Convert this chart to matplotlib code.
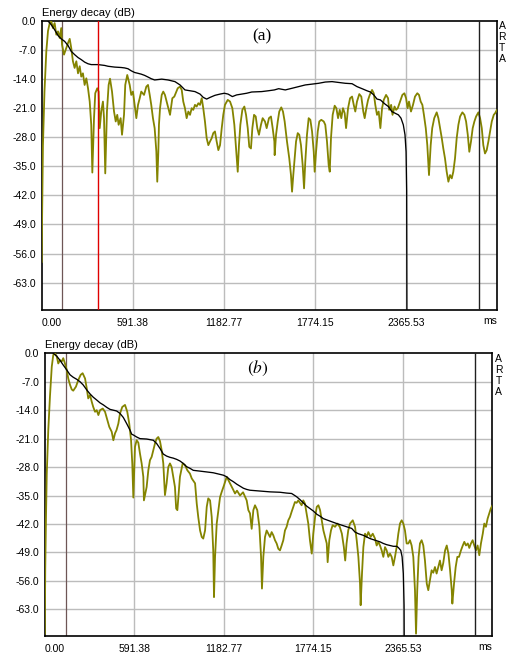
import matplotlib
matplotlib.use("Agg")
import matplotlib.pyplot as plt

# ---------------- panel (a) ----------------
a_trace_ms = [0, 3, 8, 18, 30, 41, 52, 62, 73, 84, 95, 106, 117, 127, 132, 145, 160, 171, 182, 192,
              203, 214, 225, 236, 247, 257, 268, 279, 290, 301, 312, 322, 329, 340, 348, 361, 370, 377,
              387, 398, 405, 413, 424, 435, 444, 457, 470, 481, 491, 500, 513, 522, 535, 543, 556, 572,
              582, 593, 604, 615, 626, 637, 647, 665, 680, 691, 702, 712, 723, 734, 745, 751, 758, 762,
              769, 780, 790, 801, 812, 823, 834, 840, 849, 862, 871, 884, 899, 910, 920, 931, 942, 953,
              964, 975, 985, 996, 1007, 1018, 1029, 1040, 1050, 1061, 1072, 1083, 1094, 1105, 1115, 1126,
              1137, 1148, 1159, 1170, 1180, 1191, 1209, 1224, 1239, 1252, 1265, 1274, 1282, 1291, 1304,
              1317, 1328, 1339, 1349, 1360, 1369, 1380, 1391, 1401, 1412, 1425, 1436, 1451, 1462, 1477,
              1490, 1501, 1512, 1514, 1523, 1534, 1544, 1557, 1568, 1579, 1594, 1609, 1620, 1627, 1635,
              1644, 1653, 1664, 1674, 1685, 1696, 1705, 1713, 1724, 1735, 1746, 1757, 1768, 1774, 1783,
              1794, 1804, 1817, 1833, 1843, 1854, 1865, 1872, 1880, 1891, 1904, 1915, 1926, 1937, 1947,
              1958, 1969, 1978, 1991, 2004, 2017, 2028, 2038, 2049, 2064, 2077, 2090, 2099, 2110, 2121,
              2132, 2147, 2158, 2168, 2179, 2190, 2201, 2212, 2223, 2238, 2251, 2258, 2271, 2280, 2293,
              2303, 2314, 2329, 2344, 2357, 2368, 2378, 2387, 2400, 2413, 2426, 2441, 2452, 2463, 2474,
              2484, 2496, 2506, 2517, 2528, 2538, 2551, 2567, 2578, 2589, 2600, 2610, 2621, 2632, 2643,
              2654, 2665, 2675, 2686, 2697, 2708, 2719, 2734, 2747, 2758, 2769, 2779, 2790, 2801, 2812,
              2823, 2838, 2849, 2860, 2870, 2881, 2892, 2903, 2914, 2925, 2938, 2947, 2957]
a_trace_db = [-58, -46, -30, -17, -7.3, -2.4, -0.5, 0.0, -1.7, -0.5, -3.3, -2.5, -4.1, -1.7, -5.7, -8.1,
              -6.5, -5.3, -4.3, -6.5, -9.7, -11.3, -9.7, -12.6, -10.9, -13.4, -12.6, -15.4, -13.8, -16.2,
              -19.4, -25, -36.5, -23.4, -17.4, -16.2, -17, -25.8, -21.8, -19.4, -23.4, -36.7, -21.8, -15.4,
              -13.9, -17, -21.8, -24.2, -22.6, -25, -23.4, -27.4, -22.6, -15.4, -13, -15.4, -17.8, -17,
              -20.2, -23.4, -20.2, -18.6, -17, -17.8, -15.8, -15.4, -17.8, -20.2, -23.4, -25.8, -31.4,
              -38.7, -31.5, -25, -21, -17.8, -17, -17.8, -19.4, -21, -22.6, -21, -18.6, -18.2, -17.4,
              -16.2, -15.8, -16.6, -19.4, -21, -23.4, -21.8, -22.6, -21, -21.4, -20.2, -20.6, -19.8,
              -20.2, -18.6, -21, -24.2, -28.2, -29.9, -29, -28.2, -27, -26.6, -29, -31.1, -29.9, -25.8,
              -22.6, -20.2, -19, -19.4, -21, -25, -31.5, -36.3, -29.9, -25, -21.4, -20.6, -22.6, -25.8,
              -30.3, -30.7, -25.8, -22.6, -23, -25.8, -27.4, -25, -23.4, -24.2, -25.8, -23.4, -23, -25.8,
              -29, -32.3, -27.4, -24.2, -21.8, -20.8, -21.8, -24.2, -29, -33.1, -37.1, -41.1, -37.1,
              -33.1, -29, -27, -27.4, -29.9, -34.7, -40.3, -33.9, -27.4, -23.4, -23.8, -26.6, -31.5,
              -36.3, -31.5, -26.6, -24.2, -23.8, -24.2, -25, -29, -34.7, -36.3, -28.2, -22.6, -20.4, -21,
              -23.4, -21.4, -23.4, -21, -22.2, -25.8, -21, -18.6, -18.2, -20.2, -21.8, -19.4, -17.6,
              -18.2, -21.8, -23.4, -21, -19, -17.8, -16.6, -17.4, -20.2, -22.6, -21.8, -25.8, -21, -19,
              -17.8, -18.6, -21.4, -20.2, -22.6, -20.6, -21.4, -21, -19.4, -17.8, -17.4, -18.6, -21,
              -19.4, -21.8, -20.2, -18.2, -17.4, -17.8, -19.4, -20.2, -22.6, -25.8, -29.9, -37.1, -29.9,
              -25.8, -23.4, -22, -23.4, -25.8, -28.2, -30.7, -33.1, -36.3, -38.7, -37.1, -37.9, -36.3,
              -33.1, -28.2, -25, -23, -22, -22.6, -24.2, -27.4, -31.5, -29, -25.8, -24.2, -23, -22, -23.4,
              -25.8, -29.9, -31.9, -31.1, -29, -26.6, -24.2, -22.6, -22.2, -21.5]
a_decay_ms = [41, 62, 84, 106, 127, 149, 171, 192, 214, 236, 257, 279, 301, 322, 366, 409, 431, 474, 517,
              539, 561, 582, 604, 626, 647, 669, 691, 712, 734, 780, 821, 866, 899, 931, 964, 996, 1029,
              1050, 1072, 1094, 1126, 1159, 1187, 1211, 1239, 1267, 1300, 1332, 1365, 1430, 1473, 1512,
              1540, 1583, 1627, 1670, 1713, 1757, 1800, 1843, 1887, 1930, 1973, 2017, 2049, 2082, 2114,
              2136, 2158, 2179, 2201, 2231, 2253, 2275, 2296, 2318, 2335, 2350, 2361, 2368, 2372, 2374,
              2842]
a_decay_db = [0, -0.9, -2.1, -3.5, -4.3, -4.9, -5.9, -7.3, -8.1, -8.8, -9.3, -9.9, -10.3, -10.5, -10.5,
              -10.7, -10.9, -11.1, -11.2, -11.3, -11.5, -12, -12.4, -12.6, -12.8, -13.1, -13.5, -13.9,
              -14.2, -14.0, -14.2, -14.6, -15.4, -16.6, -16.8, -17, -17.6, -18.4, -18.8, -18.4, -17.9,
              -17.6, -17.4, -17.6, -18.2, -17.8, -17.6, -17.4, -17.1, -17.0, -16.8, -16.6, -16.3, -16.6,
              -16.2, -15.8, -15.4, -15.2, -15.0, -14.7, -14.6, -14.8, -15.0, -15.1, -15.8, -16.3, -16.8,
              -17.1, -17.8, -18.8, -19.0, -20.0, -20.6, -21.8, -22.2, -22.6, -23.4, -25, -27.4, -31.5,
              -41, -80, -80]
a_marker_dark = 134
a_marker_red = 366
a_marker_end = 2842

# ---------------- panel (b) ----------------
b_trace_ms = [0, 3, 8, 13, 23, 34, 46, 56, 67, 79, 89, 100, 112, 122, 133, 145, 155, 167, 178, 188, 206,
              221, 237, 250, 266, 277, 287, 299, 310, 320, 332, 343, 354, 365, 383, 398, 413, 426, 442,
              453, 464, 474, 486, 497, 512, 530, 545, 558, 570, 578, 585, 596, 607, 618, 629, 640, 651,
              655, 673, 684, 695, 706, 717, 728, 739, 750, 761, 772, 783, 794, 805, 816, 827, 838, 849,
              860, 868, 876, 893, 911, 926, 942, 959, 971, 993, 1004, 1014, 1026, 1037, 1047, 1059, 1070,
              1080, 1092, 1103, 1113, 1118, 1125, 1136, 1147, 1158, 1169, 1184, 1202, 1224, 1244, 1257,
              1270, 1290, 1310, 1334, 1345, 1356, 1367, 1378, 1389, 1404, 1418, 1429, 1435, 1444, 1455,
              1466, 1477, 1488, 1499, 1510, 1521, 1532, 1543, 1554, 1565, 1576, 1587, 1598, 1609, 1620,
              1631, 1642, 1653, 1664, 1675, 1686, 1697, 1708, 1719, 1730, 1741, 1752, 1764, 1774, 1786,
              1797, 1808, 1819, 1830, 1841, 1852, 1863, 1869, 1880, 1891, 1902, 1918, 1933, 1949, 1963,
              1976, 1985, 1994, 2005, 2017, 2035, 2050, 2061, 2072, 2083, 2087, 2096, 2105, 2116, 2127,
              2138, 2153, 2167, 2182, 2193, 2204, 2215, 2226, 2237, 2248, 2259, 2270, 2281, 2292, 2303,
              2314, 2325, 2336, 2347, 2358, 2369, 2380, 2391, 2402, 2413, 2424, 2435, 2446, 2453, 2461,
              2470, 2479, 2490, 2501, 2512, 2524, 2534, 2545, 2556, 2567, 2578, 2589, 2600, 2611, 2622,
              2633, 2645, 2656, 2667, 2678, 2689, 2693, 2704, 2715, 2726, 2737, 2750, 2762, 2772, 2783,
              2795, 2805, 2816, 2827, 2838, 2849, 2860, 2871, 2882, 2894, 2904, 2915, 2926, 2937, 2947,
              2957]
b_trace_db = [-69, -53, -40, -29.6, -18.9, -10.7, -3.3, -0.4, 0, -0.8, -2.5, -1.7, -2.0, -1.2, -2.5, -4.1,
              -6.2, -7.8, -8.9, -9.2, -8.2, -6.6, -5.3, -4.9, -6.2, -8.6, -11.1, -10.3, -11.9, -13.2,
              -14.4, -14.0, -15.2, -14, -13.6, -14.4, -16.4, -18.1, -19.3, -21.4, -19.7, -18.9, -17.3,
              -14.8, -13.2, -12.7, -14.4, -17.3, -21.4, -27.1, -35.5, -23, -21.4, -22.0, -24.7, -27.1,
              -30.4, -36.2, -32.9, -28.8, -26.3, -25.5, -23.8, -22.2, -21, -20.6, -21.6, -23.8, -27.1,
              -34.9, -32, -28, -27.1, -28.0, -30.4, -32.9, -38.2, -38.6, -30.4, -27.1, -27.5, -28.8,
              -29.6, -30.8, -32, -37, -40.3, -43.6, -45.2, -45.6, -43.6, -37.8, -35.7, -36.2, -40.3,
              -48.5, -60, -50.1, -41.9, -38.6, -35.4, -34.1, -32.5, -30.4, -32, -33.5, -34.5, -33.8, -35,
              -34.2, -36.2, -38.6, -39.4, -43.2, -38.6, -37.4, -38.6, -42.7, -50.1, -57.9, -50.1, -45.2,
              -43.6, -44.4, -45.2, -44, -44.8, -46, -46.8, -48.1, -48.5, -47.3, -46, -43.6, -42.7, -41.1,
              -40.3, -39, -37.8, -36.6, -36.8, -36.2, -36.8, -37.4, -36.2, -37, -39.4, -41.9, -46, -49.3,
              -44.4, -40.3, -37.8, -37.4, -38.6, -41.1, -43.6, -45.2, -46.8, -51.4, -46, -43.6, -42.3,
              -42.7, -41.9, -42.7, -44.4, -47.7, -51, -46.8, -43.6, -41.9, -41.1, -42.7, -46, -50.1,
              -56.7, -62, -54.2, -47.7, -44.4, -45.2, -44, -45.2, -44.4, -45.6, -47.3, -46.4, -47.3,
              -48.5, -50.1, -47.7, -48.5, -50.1, -49.3, -50.1, -52.2, -50.1, -47.7, -44.4, -41.9, -41.1,
              -41.9, -43.6, -46.8, -46.8, -46, -47.3, -50.1, -58.3, -69, -58.3, -50.1, -46.8, -46, -47.3,
              -51, -56.7, -58.3, -55.9, -53.4, -54.0, -52.6, -54.2, -52.6, -51, -53.4, -51.6, -48.5,
              -47.3, -49.3, -53.4, -58.3, -61.6, -56.7, -52.6, -50.1, -50.1, -48.5, -47.3, -46.4, -47.3,
              -46.8, -47.9, -46.8, -46, -47.3, -48.5, -47.3, -49.7, -46.8, -44.4, -41.9, -42.7, -40.7,
              -39.4, -38.2, -37.5]
b_decay_ms = [56, 79, 100, 122, 145, 167, 188, 211, 233, 254, 277, 299, 320, 343, 365, 387, 409, 431, 453,
              475, 497, 519, 541, 563, 574, 585, 607, 629, 673, 717, 739, 761, 783, 805, 827, 849, 871,
              893, 915, 937, 959, 981, 1026, 1070, 1113, 1158, 1180, 1202, 1224, 1246, 1268, 1290, 1312,
              1334, 1356, 1422, 1488, 1554, 1598, 1631, 1664, 1686, 1708, 1730, 1752, 1774, 1797, 1819,
              1841, 1885, 1929, 1995, 2028, 2050, 2072, 2105, 2127, 2149, 2182, 2215, 2237, 2259, 2281,
              2303, 2325, 2336, 2352, 2361, 2369, 2374, 2376, 2845]
b_decay_db = [0, -0.7, -1.7, -2.9, -4.1, -5.3, -5.9, -6.4, -7.0, -7.8, -9.0, -10, -10.8, -11.5, -12.2,
              -12.7, -13.3, -13.8, -14.0, -14.2, -14.8, -15.8, -17.3, -18.9, -19.9, -20.1, -20.6, -21.0,
              -21.1, -21.4, -22.2, -23.4, -24.8, -25.3, -25.6, -25.8, -26.1, -26.5, -27.1, -27.9, -28.3,
              -28.8, -29.0, -29.2, -29.4, -29.8, -30.0, -30.4, -31.1, -31.6, -32.2, -32.7, -33.2, -33.5,
              -33.7, -33.9, -34.1, -34.2, -34.4, -34.5, -35.3, -36.0, -36.8, -37.6, -38.2, -38.8, -39.6,
              -40.1, -40.7, -41.3, -41.9, -42.7, -43.1, -44.0, -44.4, -44.8, -45.2, -45.6, -46.0, -46.4,
              -46.8, -47.1, -47.3, -47.5, -47.5, -47.8, -48.5, -50.1, -54.2, -62, -80, -80]
b_marker_dark = 138
b_marker_end = 2845

# ---------------- shared axis settings ----------------
x_ticks = [0.0, 591.38, 1182.77, 1774.15, 2365.53]
x_tick_labels = ["0.00", "591.38", "1182.77", "1774.15", "2365.53"]
y_ticks = [0.0, -7.0, -14.0, -21.0, -28.0, -35.0, -42.0, -49.0, -56.0, -63.0]
y_tick_labels = ["0.0", "-7.0", "-14.0", "-21.0", "-28.0", "-35.0", "-42.0", "-49.0", "-56.0", "-63.0"]
x_max = 2957.0

OLIVE = "#848400"
GRID = "#bcbcbc"
DARKMARK = "#6e5656"
SANS = ["Liberation Sans", "DejaVu Sans"]

fig = plt.figure(figsize=(5.10, 6.53), dpi=100)


def panel(rect, trace_ms, trace_db, decay_ms, decay_db, dark_t, end_t, y_bottom, tag, tag_xy,
          tag_kw, arta_xy, red_t=None):
    ax = fig.add_axes(rect)
    ax.set_xlim(0, x_max)
    ax.set_ylim(y_bottom, 0)
    for v in x_ticks[1:]:
        ax.axvline(v, color=GRID, lw=1.0, zorder=1)
    for v in y_ticks[1:]:
        ax.axhline(v, color=GRID, lw=1.0, zorder=1)
    ax.axvline(dark_t, color=DARKMARK, lw=0.9, zorder=2)
    if red_t is not None:
        ax.axvline(red_t, color="#e00000", lw=1.0, zorder=5)
    ax.plot(trace_ms, trace_db, color=OLIVE, lw=1.3, zorder=3, solid_joinstyle="round")
    ax.plot(decay_ms, decay_db, color="black", lw=0.95, zorder=4)
    ax.axvline(end_t, color="#202020", lw=1.0, zorder=4)

    ax.set_xticks(x_ticks)
    ax.set_xticklabels(x_tick_labels, fontsize=7.5, family=SANS)
    ax.set_yticks(y_ticks)
    ax.set_yticklabels(y_tick_labels, fontsize=7.5, family=SANS)
    ax.tick_params(length=0, pad=4)
    ax.tick_params(axis="x", pad=6)
    ax.get_xticklabels()[0].set_horizontalalignment("left")
    for s in ax.spines.values():
        s.set_linewidth(1.2)
        s.set_color("black")

    ax.text(0.0, 1.012, "Energy decay (dB)", transform=ax.transAxes, ha="left", va="bottom",
            fontsize=8, family=SANS)
    ax.text(1.0, -0.022, "ms", transform=ax.transAxes, ha="right", va="top",
            fontsize=7.5, family=SANS)
    fig.text(tag_xy[0] / 510, 1 - tag_xy[1] / 653, tag, ha="center", va="center", **tag_kw)
    fig.text(arta_xy[0] / 510, 1 - arta_xy[1] / 653, "A\nR\nT\nA", ha="center", va="top",
             fontsize=7.5, family=SANS, linespacing=1.12)
    return ax


panel([41.7 / 510, 1 - 310 / 653, 455.0 / 510, 289 / 653],
      a_trace_ms, a_trace_db, a_decay_ms, a_decay_db, a_marker_dark, a_marker_end, -69.6,
      "(a)", (262, 36), dict(fontsize=12.5, family=["Liberation Serif", "DejaVu Serif"]),
      (502, 21), red_t=a_marker_red)

panel([44.8 / 510, 1 - 635.7 / 653, 447.5 / 510, 282.4 / 653],
      b_trace_ms, b_trace_db, b_decay_ms, b_decay_db, b_marker_dark, b_marker_end, -69.5,
      r"$(b)$", (258, 368), dict(fontsize=12.5, math_fontfamily="stix"),
      (498.5, 354))

fig.savefig("out.png", dpi=100)
